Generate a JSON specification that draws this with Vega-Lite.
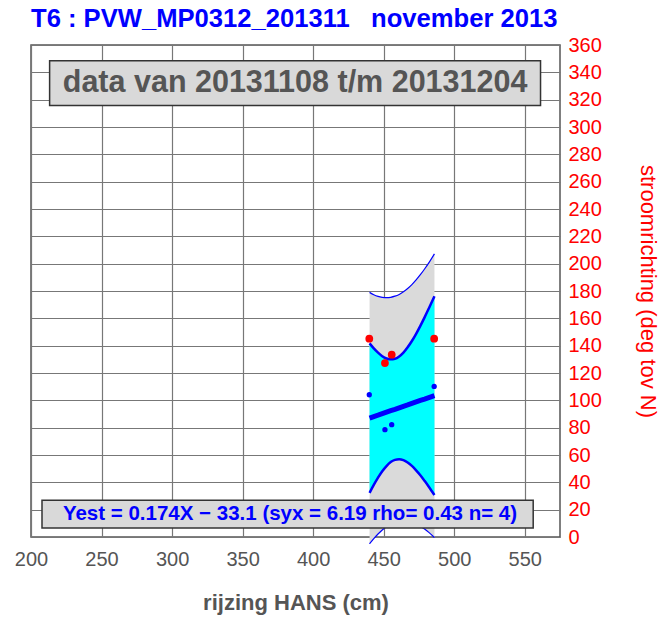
{
  "$schema": "https://vega.github.io/schema/vega-lite/v6.json",
  "width": 529,
  "height": 492,
  "autosize": {"type": "none"},
  "padding": {"left": 31, "top": 45, "right": 111, "bottom": 84},
  "background": "white",
  "config": {
    "font": "Liberation Sans",
    "view": {"stroke": "#555", "strokeWidth": 1.5},
    "axis": {"gridColor": "#777", "gridWidth": 1.2, "gridOpacity": 1, "ticks": false, "domain": false, "labelOverlap": false, "labelFlush": false},
    "axisY": {"tickCount": 20, "labelOverlap": false, "orient": "right"},
    "axisX": {"tickCount": 10}
  },
  "title": {
    "text": "T6 : PVW_MP0312_201311\u00a0\u00a0\u00a0november 2013",
    "anchor": "start",
    "frame": "group",
    "fontSize": 25.6,
    "fontWeight": "bold",
    "color": "#0000ff",
    "offset": 2
  },
  "datasets": {
    "band": [
      {"x": 440, "lo": -5.0, "li": 32.3, "fit": 87.0, "ui": 141.7, "uo": 179.0},
      {"x": 443, "lo": -1.2, "li": 38.1, "fit": 88.1, "ui": 138.0, "uo": 177.3},
      {"x": 446, "lo": 2.2, "li": 43.4, "fit": 89.1, "ui": 134.9, "uo": 176.1},
      {"x": 449, "lo": 5.1, "li": 48.1, "fit": 90.2, "ui": 132.3, "uo": 175.4},
      {"x": 452, "lo": 7.5, "li": 51.9, "fit": 91.3, "ui": 130.6, "uo": 175.1},
      {"x": 455, "lo": 9.4, "li": 54.8, "fit": 92.4, "ui": 130.0, "uo": 175.4},
      {"x": 458, "lo": 10.7, "li": 56.4, "fit": 93.4, "ui": 130.4, "uo": 176.2},
      {"x": 461, "lo": 11.5, "li": 56.9, "fit": 94.5, "ui": 132.1, "uo": 177.5},
      {"x": 464, "lo": 11.8, "li": 56.2, "fit": 95.6, "ui": 134.9, "uo": 179.4},
      {"x": 467, "lo": 11.5, "li": 54.5, "fit": 96.6, "ui": 138.8, "uo": 181.8},
      {"x": 470, "lo": 10.7, "li": 52.0, "fit": 97.7, "ui": 143.4, "uo": 184.7},
      {"x": 473, "lo": 9.5, "li": 48.8, "fit": 98.8, "ui": 148.7, "uo": 188.1},
      {"x": 476, "lo": 7.9, "li": 45.2, "fit": 99.9, "ui": 154.5, "uo": 191.9},
      {"x": 479, "lo": 5.8, "li": 41.1, "fit": 100.9, "ui": 160.7, "uo": 196.1},
      {"x": 482, "lo": 3.4, "li": 36.8, "fit": 102.0, "ui": 167.2, "uo": 200.6},
      {"x": 486, "lo": -0.4, "li": 30.7, "fit": 103.4, "ui": 176.1, "uo": 207.2}
    ],
    "pts": [
      {"x": 439.8, "y": 145.1, "s": "richting"},
      {"x": 450.9, "y": 127.3, "s": "richting"},
      {"x": 455.7, "y": 133.4, "s": "richting"},
      {"x": 485.8, "y": 145.1, "s": "richting"},
      {"x": 439.8, "y": 104.1, "s": "schatting"},
      {"x": 450.9, "y": 78.5, "s": "schatting"},
      {"x": 455.7, "y": 82.2, "s": "schatting"},
      {"x": 485.8, "y": 110.2, "s": "schatting"}
    ]
  },
  "layer": [
    {
      "data": {"name": "band"},
      "mark": {"type": "area", "color": "#dadada", "interpolate": "monotone"},
      "encoding": {
        "x": {"field": "x", "type": "quantitative", "scale": {"domain": [200, 575], "nice": false, "zero": false},
          "axis": {"values": [200, 250, 300, 350, 400, 450, 500, 550], "tickCount": 10, "title": "rijzing HANS (cm)", "labelFontSize": 20, "labelColor": "#555", "labelPadding": 12, "labelOverlap": false, "titleFontSize": 22, "titleColor": "#555", "titleFontWeight": "bold", "titlePadding": 23, "labelFlush": false}},
        "y": {"field": "lo", "type": "quantitative", "scale": {"domain": [0, 360], "nice": false},
          "axis": {"orient": "right", "values": [0, 20, 40, 60, 80, 100, 120, 140, 160, 180, 200, 220, 240, 260, 280, 300, 320, 340, 360], "tickCount": 20, "title": "stroomrichting (deg tov N)", "labelFontSize": 20, "labelColor": "#ff0000", "labelPadding": 8, "labelOverlap": false, "titleFontSize": 22, "titleColor": "#ff0000", "titleFontWeight": "normal", "titleAngle": 90, "titlePadding": 34, "labelFlush": false}},
        "y2": {"field": "uo"}
      }
    },
    {
      "data": {"name": "band"},
      "mark": {"type": "area", "color": "#00ffff", "interpolate": "monotone"},
      "encoding": {
        "x": {"field": "x", "type": "quantitative"},
        "y": {"field": "li", "type": "quantitative"},
        "y2": {"field": "ui"}
      }
    },
    {
      "data": {"name": "band"},
      "mark": {"type": "line", "color": "#0000ff", "strokeWidth": 1.2, "interpolate": "monotone"},
      "encoding": {"x": {"field": "x", "type": "quantitative"}, "y": {"field": "uo", "type": "quantitative"}}
    },
    {
      "data": {"name": "band"},
      "mark": {"type": "line", "color": "#0000ff", "strokeWidth": 1.2, "interpolate": "monotone"},
      "encoding": {"x": {"field": "x", "type": "quantitative"}, "y": {"field": "lo", "type": "quantitative"}}
    },
    {
      "data": {"name": "band"},
      "mark": {"type": "line", "color": "#0000ff", "strokeWidth": 2.5, "interpolate": "monotone"},
      "encoding": {"x": {"field": "x", "type": "quantitative"}, "y": {"field": "ui", "type": "quantitative"}}
    },
    {
      "data": {"name": "band"},
      "mark": {"type": "line", "color": "#0000ff", "strokeWidth": 2.5, "interpolate": "monotone"},
      "encoding": {"x": {"field": "x", "type": "quantitative"}, "y": {"field": "li", "type": "quantitative"}}
    },
    {
      "data": {"name": "band"},
      "mark": {"type": "line", "color": "#0000ff", "strokeWidth": 5},
      "encoding": {"x": {"field": "x", "type": "quantitative"}, "y": {"field": "fit", "type": "quantitative"}}
    },
    {
      "data": {"name": "pts"},
      "mark": {"type": "circle", "opacity": 1},
      "encoding": {
        "x": {"field": "x", "type": "quantitative"},
        "y": {"field": "y", "type": "quantitative"},
        "color": {"field": "s", "type": "nominal", "scale": {"domain": ["richting", "schatting"], "range": ["#ff0000", "#0000ff"]}, "legend": null},
        "size": {"field": "s", "type": "nominal", "scale": {"domain": ["richting", "schatting"], "range": [60, 28]}, "legend": null}
      }
    },
    {
      "data": {"values": [{}]},
      "mark": {"type": "rect", "fill": "#d9d9d9", "stroke": "#333", "strokeWidth": 1.5},
      "encoding": {
        "x": {"datum": 213.2, "type": "quantitative"}, "x2": {"datum": 561.2},
        "y": {"datum": 348.4, "type": "quantitative"}, "y2": {"datum": 315.7}
      }
    },
    {
      "data": {"values": [{}]},
      "mark": {"type": "text", "text": "data van 20131108 t/m 20131204", "fontSize": 30.5, "fontWeight": "bold", "color": "#555", "align": "center", "baseline": "middle"},
      "encoding": {
        "x": {"datum": 387.2, "type": "quantitative"},
        "y": {"datum": 332, "type": "quantitative"}
      }
    },
    {
      "data": {"values": [{}]},
      "mark": {"type": "rect", "fill": "#d9d9d9", "stroke": "#333", "strokeWidth": 1.5},
      "encoding": {
        "x": {"datum": 207.8, "type": "quantitative"}, "x2": {"datum": 556},
        "y": {"datum": 26.8, "type": "quantitative"}, "y2": {"datum": 6.6}
      }
    },
    {
      "data": {"values": [{}]},
      "mark": {"type": "text", "text": "Yest = 0.174X − 33.1 (syx = 6.19 rho= 0.43 n= 4)", "fontSize": 20.5, "fontWeight": "bold", "color": "#0000ff", "align": "center", "baseline": "middle"},
      "encoding": {
        "x": {"datum": 383.6, "type": "quantitative"},
        "y": {"datum": 16.7, "type": "quantitative"}
      }
    }
  ]
}
